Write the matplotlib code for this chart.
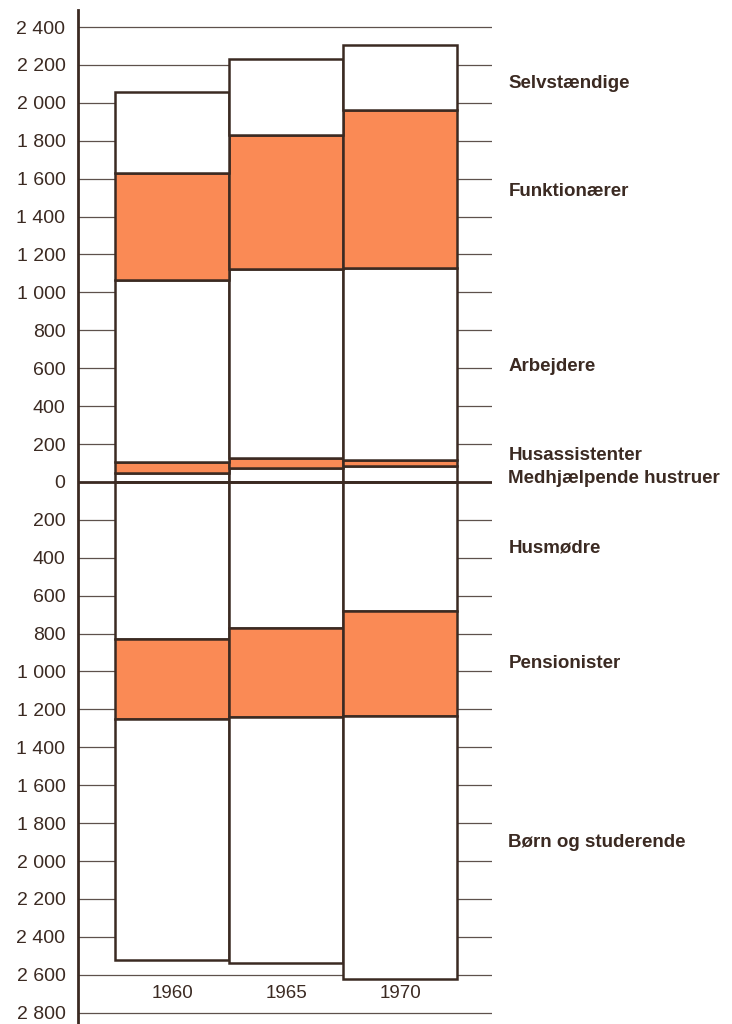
import matplotlib.pyplot as plt

# 1000 persons
years = ['1960', '1965', '1970']

# above zero (working population), stacked from 0 upwards
medhjaelpende = [45, 74, 84]
husassistenter = [60, 53, 32]
arbejdere = [961, 997, 1013]
funktionaerer = [564, 707, 834]
selvstaendige = [428, 401, 343]

# below zero (not working), stacked from 0 downwards
husmoedre = [828, 770, 681]
pensionister = [423, 470, 554]
boern = [1271, 1298, 1388]

pos_series = [medhjaelpende, husassistenter, arbejdere, funktionaerer, selvstaendige]
pos_colors = ['white', '#fa8a55', 'white', '#fa8a55', 'white']
neg_series = [husmoedre, pensionister, boern]
neg_colors = ['white', '#fa8a55', 'white']

labels = [
    ('Selvstændige', 2100),
    ('Funktionærer', 1530),
    ('Arbejdere', 610),
    ('Husassistenter', 140),
    ('Medhjælpende hustruer', 20),
    ('Husmødre', -350),
    ('Pensionister', -960),
    ('Børn og studerende', -1900),
]

ticks = list(range(-2800, 2401, 200))

ink = '#3b2a22'
plt.rcParams['font.family'] = ['Liberation Sans', 'DejaVu Sans']

fig = plt.figure(figsize=(7.32, 10.24), dpi=100)
ax = fig.add_axes([78 / 732, 0, 414 / 732, 1014 / 1024])

for t in ticks:
    if t == 0:
        ax.axhline(t, color=ink, lw=2.0, zorder=4)
    else:
        ax.axhline(t, color='#5e514c', lw=0.9, zorder=1)

x = range(len(years))
bottom = [0, 0, 0]
for vals, col in zip(pos_series, pos_colors):
    ax.bar(x, vals, width=1.0, bottom=bottom, color=col, edgecolor=ink, lw=1.8, zorder=2)
    bottom = [b + v for b, v in zip(bottom, vals)]

bottom = [0, 0, 0]
for vals, col in zip(neg_series, neg_colors):
    ax.bar(x, [-v for v in vals], width=1.0, bottom=bottom, color=col, edgecolor=ink, lw=1.8, zorder=2)
    bottom = [b - v for b, v in zip(bottom, vals)]

for i, y in enumerate(years):
    ax.text(i, -2700, y, ha='center', va='center', fontsize=13.5, color=ink)

for name, yv in labels:
    ax.text(2.95, yv, name, ha='left', va='center', fontsize=13.5, fontweight='bold', color=ink, clip_on=False)

ax.set_xlim(-0.825, 2.807)
ax.set_ylim(-2860, 2490)
ax.set_yticks(ticks)
ax.set_yticklabels([f'{abs(t):,}'.replace(',', ' ') for t in ticks], fontsize=14, color=ink)
ax.tick_params(axis='y', length=0, pad=9)
ax.set_xticks([])
for s in ['top', 'right', 'bottom']:
    ax.spines[s].set_visible(False)
ax.spines['left'].set_color(ink)
ax.spines['left'].set_linewidth(2)

fig.savefig('out.png', dpi=100)
